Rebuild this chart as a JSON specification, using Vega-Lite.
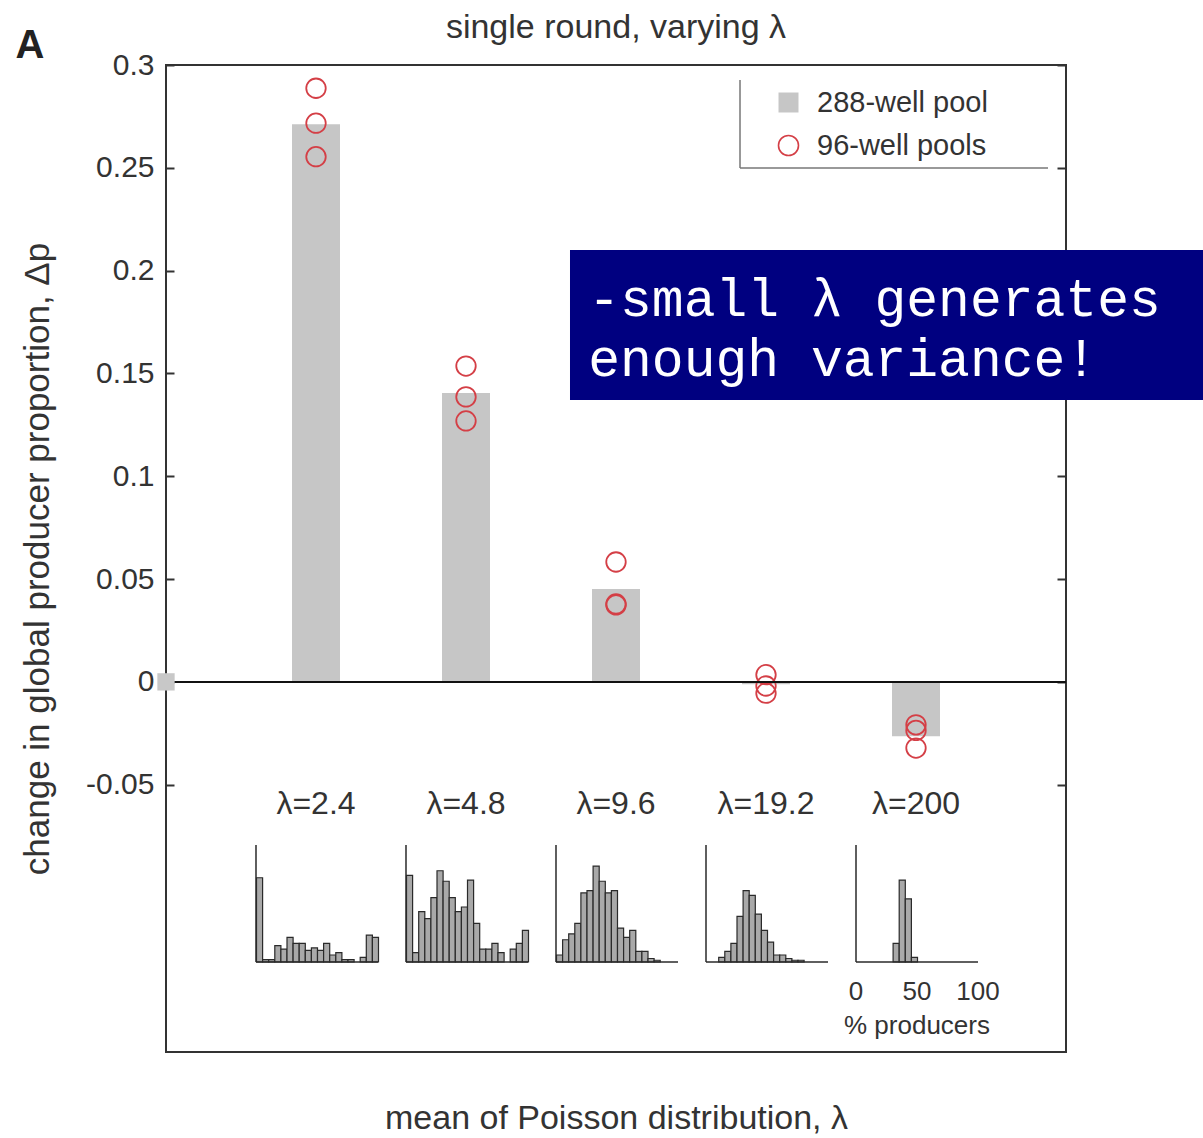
{
  "$schema": "https://vega.github.io/schema/vega-lite/v6.json",
  "width": 900,
  "height": 987,
  "autosize": {"type": "none"},
  "padding": {"left": 166, "top": 65, "right": 137, "bottom": 86},
  "background": "white",
  "title": {"text": "single round, varying λ", "fontSize": 34, "fontWeight": "normal", "color": "#333", "offset": -19, "anchor": "middle"},
  "config": {
    "font": "Liberation Sans",
    "view": {"stroke": "#333", "strokeWidth": 2},
    "axis": {"grid": false}
  },
  "datasets": {
    "pool": [
      {"lambda": "2.4", "series": "288-well pool", "dp": 0.2712},
      {"lambda": "4.8", "series": "288-well pool", "dp": 0.1405},
      {"lambda": "9.6", "series": "288-well pool", "dp": 0.0452},
      {"lambda": "19.2", "series": "288-well pool", "dp": -0.0012},
      {"lambda": "200", "series": "288-well pool", "dp": -0.0265}
    ],
    "pools96": [
      {"lambda": "2.4", "series": "96-well pools", "dp": 0.2887},
      {"lambda": "2.4", "series": "96-well pools", "dp": 0.2717},
      {"lambda": "2.4", "series": "96-well pools", "dp": 0.2554},
      {"lambda": "4.8", "series": "96-well pools", "dp": 0.1536},
      {"lambda": "4.8", "series": "96-well pools", "dp": 0.1386},
      {"lambda": "4.8", "series": "96-well pools", "dp": 0.1269},
      {"lambda": "9.6", "series": "96-well pools", "dp": 0.0583},
      {"lambda": "9.6", "series": "96-well pools", "dp": 0.0379},
      {"lambda": "9.6", "series": "96-well pools", "dp": 0.0374},
      {"lambda": "19.2", "series": "96-well pools", "dp": 0.0035},
      {"lambda": "19.2", "series": "96-well pools", "dp": -0.002},
      {"lambda": "19.2", "series": "96-well pools", "dp": -0.0055},
      {"lambda": "200", "series": "96-well pools", "dp": -0.0209},
      {"lambda": "200", "series": "96-well pools", "dp": -0.0236},
      {"lambda": "200", "series": "96-well pools", "dp": -0.0322}
    ],
    "hist": [
      {"lambda": "2.4", "lo": 0, "hi": 5, "h": 0.72},
      {"lambda": "2.4", "lo": 5, "hi": 10, "h": 0.02},
      {"lambda": "2.4", "lo": 10, "hi": 15, "h": 0.02},
      {"lambda": "2.4", "lo": 15, "hi": 20, "h": 0.14},
      {"lambda": "2.4", "lo": 20, "hi": 25, "h": 0.11},
      {"lambda": "2.4", "lo": 25, "hi": 30, "h": 0.21},
      {"lambda": "2.4", "lo": 30, "hi": 35, "h": 0.16},
      {"lambda": "2.4", "lo": 35, "hi": 40, "h": 0.16},
      {"lambda": "2.4", "lo": 40, "hi": 45, "h": 0.10},
      {"lambda": "2.4", "lo": 45, "hi": 50, "h": 0.12},
      {"lambda": "2.4", "lo": 50, "hi": 55, "h": 0.10},
      {"lambda": "2.4", "lo": 55, "hi": 60, "h": 0.16},
      {"lambda": "2.4", "lo": 60, "hi": 65, "h": 0.06},
      {"lambda": "2.4", "lo": 65, "hi": 70, "h": 0.08},
      {"lambda": "2.4", "lo": 70, "hi": 75, "h": 0.02},
      {"lambda": "2.4", "lo": 75, "hi": 80, "h": 0.02},
      {"lambda": "2.4", "lo": 85, "hi": 90, "h": 0.04},
      {"lambda": "2.4", "lo": 90, "hi": 95, "h": 0.23},
      {"lambda": "2.4", "lo": 95, "hi": 100, "h": 0.21},
      {"lambda": "4.8", "lo": 0, "hi": 5, "h": 0.74},
      {"lambda": "4.8", "lo": 5, "hi": 10, "h": 0.08},
      {"lambda": "4.8", "lo": 10, "hi": 15, "h": 0.43},
      {"lambda": "4.8", "lo": 15, "hi": 20, "h": 0.37},
      {"lambda": "4.8", "lo": 20, "hi": 25, "h": 0.55},
      {"lambda": "4.8", "lo": 25, "hi": 30, "h": 0.78},
      {"lambda": "4.8", "lo": 30, "hi": 35, "h": 0.69},
      {"lambda": "4.8", "lo": 35, "hi": 40, "h": 0.55},
      {"lambda": "4.8", "lo": 40, "hi": 45, "h": 0.43},
      {"lambda": "4.8", "lo": 45, "hi": 50, "h": 0.47},
      {"lambda": "4.8", "lo": 50, "hi": 55, "h": 0.70},
      {"lambda": "4.8", "lo": 55, "hi": 60, "h": 0.33},
      {"lambda": "4.8", "lo": 60, "hi": 65, "h": 0.11},
      {"lambda": "4.8", "lo": 65, "hi": 70, "h": 0.11},
      {"lambda": "4.8", "lo": 70, "hi": 75, "h": 0.16},
      {"lambda": "4.8", "lo": 75, "hi": 80, "h": 0.08},
      {"lambda": "4.8", "lo": 85, "hi": 90, "h": 0.11},
      {"lambda": "4.8", "lo": 90, "hi": 95, "h": 0.16},
      {"lambda": "4.8", "lo": 95, "hi": 100, "h": 0.27},
      {"lambda": "9.6", "lo": 0, "hi": 5, "h": 0.06},
      {"lambda": "9.6", "lo": 5, "hi": 10, "h": 0.19},
      {"lambda": "9.6", "lo": 10, "hi": 15, "h": 0.24},
      {"lambda": "9.6", "lo": 15, "hi": 20, "h": 0.33},
      {"lambda": "9.6", "lo": 20, "hi": 25, "h": 0.59},
      {"lambda": "9.6", "lo": 25, "hi": 30, "h": 0.61},
      {"lambda": "9.6", "lo": 30, "hi": 35, "h": 0.82},
      {"lambda": "9.6", "lo": 35, "hi": 40, "h": 0.69},
      {"lambda": "9.6", "lo": 40, "hi": 45, "h": 0.59},
      {"lambda": "9.6", "lo": 45, "hi": 50, "h": 0.61},
      {"lambda": "9.6", "lo": 50, "hi": 55, "h": 0.29},
      {"lambda": "9.6", "lo": 55, "hi": 60, "h": 0.21},
      {"lambda": "9.6", "lo": 60, "hi": 65, "h": 0.27},
      {"lambda": "9.6", "lo": 65, "hi": 70, "h": 0.09},
      {"lambda": "9.6", "lo": 70, "hi": 75, "h": 0.09},
      {"lambda": "9.6", "lo": 75, "hi": 80, "h": 0.03},
      {"lambda": "9.6", "lo": 80, "hi": 85, "h": 0.015},
      {"lambda": "19.2", "lo": 10, "hi": 15, "h": 0.04},
      {"lambda": "19.2", "lo": 15, "hi": 20, "h": 0.09},
      {"lambda": "19.2", "lo": 20, "hi": 25, "h": 0.16},
      {"lambda": "19.2", "lo": 25, "hi": 30, "h": 0.39},
      {"lambda": "19.2", "lo": 30, "hi": 35, "h": 0.61},
      {"lambda": "19.2", "lo": 35, "hi": 40, "h": 0.57},
      {"lambda": "19.2", "lo": 40, "hi": 45, "h": 0.41},
      {"lambda": "19.2", "lo": 45, "hi": 50, "h": 0.27},
      {"lambda": "19.2", "lo": 50, "hi": 55, "h": 0.17},
      {"lambda": "19.2", "lo": 55, "hi": 60, "h": 0.06},
      {"lambda": "19.2", "lo": 60, "hi": 65, "h": 0.06},
      {"lambda": "19.2", "lo": 65, "hi": 70, "h": 0.03},
      {"lambda": "19.2", "lo": 70, "hi": 75, "h": 0.015},
      {"lambda": "19.2", "lo": 75, "hi": 80, "h": 0.015},
      {"lambda": "200", "lo": 30, "hi": 35, "h": 0.16},
      {"lambda": "200", "lo": 35, "hi": 40, "h": 0.70},
      {"lambda": "200", "lo": 40, "hi": 45, "h": 0.54},
      {"lambda": "200", "lo": 45, "hi": 50, "h": 0.04}
    ]
  },
  "layer": [
    {
      "layer": [
        {
          "data": {"name": "pool"},
          "mark": {"type": "bar"},
          "encoding": {
            "x": {"field": "lambda", "type": "ordinal", "sort": ["2.4", "4.8", "9.6", "19.2", "200"],
              "scale": {"paddingInner": 0.68, "paddingOuter": 0.84},
              "axis": {"labels": false, "ticks": false, "domain": false, "title": "mean of Poisson distribution, λ", "titleFontSize": 34, "titleFontWeight": "normal", "titleColor": "#333", "titlePadding": 49}},
            "y": {"field": "dp", "type": "quantitative",
              "scale": {"domain": [-0.18, 0.3], "nice": false, "zero": false},
              "axis": {"values": [-0.05, 0, 0.05, 0.1, 0.15, 0.2, 0.25, 0.3], "labelExpr": "'' + datum.value", "tickSize": -8, "tickWidth": 2, "tickColor": "#333", "labelPadding": 20, "labelFontSize": 30, "labelColor": "#333", "domain": false, "title": "change in global producer proportion, Δp", "titleFontSize": 35, "titleFontWeight": "normal", "titleColor": "#333", "titlePadding": 30}},
            "fill": {"field": "series", "type": "nominal",
              "scale": {"domain": ["288-well pool", "96-well pools"], "range": ["#c6c6c6", "rgba(255,255,255,0)"]},
              "legend": {"orient": "none", "legendX": 608, "legendY": 23, "title": null, "labelFontSize": 29, "labelColor": "#333", "labelOffset": 14, "labelLimit": 400, "symbolSize": 400, "rowPadding": 13, "padding": 0, "symbolStrokeWidth": 1.6, "symbolOpacity": 1,
                "encode": {"symbols": {"update": {
                  "shape": {"signal": "datum.value === '288-well pool' ? 'square' : 'circle'"},
                  "opacity": {"value": 1}
                }}}}}
          }
        },
        {
          "data": {"name": "pools96"},
          "mark": {"type": "point", "shape": "circle", "filled": false, "size": 380, "strokeWidth": 1.8, "opacity": 1},
          "encoding": {
            "x": {"field": "lambda", "type": "ordinal", "sort": ["2.4", "4.8", "9.6", "19.2", "200"]},
            "y": {"field": "dp", "type": "quantitative"},
            "stroke": {"field": "series", "type": "nominal",
              "scale": {"domain": ["288-well pool", "96-well pools"], "range": ["rgba(255,255,255,0)", "#d43f46"]},
              "legend": {"orient": "none", "legendX": 608, "legendY": 23, "title": null, "labelFontSize": 29, "labelColor": "#333", "labelOffset": 14, "labelLimit": 400, "symbolSize": 400, "rowPadding": 13, "padding": 0, "symbolStrokeWidth": 1.8, "symbolOpacity": 1,
                "encode": {"symbols": {"update": {
                  "shape": {"signal": "datum.value === '288-well pool' ? 'square' : 'circle'"},
                  "opacity": {"value": 1}
                }}}}}
          }
        },
        {
          "data": {"name": "pool"},
          "transform": [{"calculate": "'λ=' + datum.lambda", "as": "lab"}],
          "mark": {"type": "text", "fontSize": 32, "color": "#333", "baseline": "middle"},
          "encoding": {
            "x": {"field": "lambda", "type": "ordinal", "sort": ["2.4", "4.8", "9.6", "19.2", "200"]},
            "y": {"datum": -0.0595},
            "text": {"field": "lab"}
          }
        }
      ]
    },
    {
      "layer": [
        {"data": {"name": "hist"}, "transform": [{"filter": "datum.lambda === '2.4'"}],
         "mark": {"type": "bar", "fill": "#a9a9a9", "stroke": "#2a2a2a", "strokeWidth": 1.2, "binSpacing": 0},
         "encoding": {
           "x": {"field": "lo", "type": "quantitative", "bin": {"binned": true}, "scale": {"domain": [-73.770, 663.934], "nice": false, "zero": false}, "axis": null},
           "x2": {"field": "hi"},
           "y": {"field": "h", "type": "quantitative", "scale": {"domain": [-0.7692, 7.6667], "nice": false, "zero": false}, "axis": null}}},
        {"data": {"values": [{}]}, "mark": {"type": "rule", "stroke": "#2a2a2a", "strokeWidth": 1.5},
         "encoding": {"x": {"datum": 0, "axis": null}, "y": {"datum": 0, "axis": null}, "y2": {"datum": 1}}},
        {"data": {"values": [{}]}, "mark": {"type": "rule", "stroke": "#2a2a2a", "strokeWidth": 1.5},
         "encoding": {"x": {"datum": 0, "axis": null}, "x2": {"datum": 100}, "y": {"datum": 0, "axis": null}}}
      ]
    },
    {
      "layer": [
        {"data": {"name": "hist"}, "transform": [{"filter": "datum.lambda === '4.8'"}],
         "mark": {"type": "bar", "fill": "#a9a9a9", "stroke": "#2a2a2a", "strokeWidth": 1.2, "binSpacing": 0},
         "encoding": {
           "x": {"field": "lo", "type": "quantitative", "bin": {"binned": true}, "scale": {"domain": [-196.721, 540.984], "nice": false, "zero": false}, "axis": null},
           "x2": {"field": "hi"},
           "y": {"field": "h", "type": "quantitative", "scale": {"domain": [-0.7692, 7.6667], "nice": false, "zero": false}, "axis": null}}},
        {"data": {"values": [{}]}, "mark": {"type": "rule", "stroke": "#2a2a2a", "strokeWidth": 1.5},
         "encoding": {"x": {"datum": 0, "axis": null}, "y": {"datum": 0, "axis": null}, "y2": {"datum": 1}}},
        {"data": {"values": [{}]}, "mark": {"type": "rule", "stroke": "#2a2a2a", "strokeWidth": 1.5},
         "encoding": {"x": {"datum": 0, "axis": null}, "x2": {"datum": 100}, "y": {"datum": 0, "axis": null}}}
      ]
    },
    {
      "layer": [
        {"data": {"name": "hist"}, "transform": [{"filter": "datum.lambda === '9.6'"}],
         "mark": {"type": "bar", "fill": "#a9a9a9", "stroke": "#2a2a2a", "strokeWidth": 1.2, "binSpacing": 0},
         "encoding": {
           "x": {"field": "lo", "type": "quantitative", "bin": {"binned": true}, "scale": {"domain": [-319.672, 418.033], "nice": false, "zero": false}, "axis": null},
           "x2": {"field": "hi"},
           "y": {"field": "h", "type": "quantitative", "scale": {"domain": [-0.7692, 7.6667], "nice": false, "zero": false}, "axis": null}}},
        {"data": {"values": [{}]}, "mark": {"type": "rule", "stroke": "#2a2a2a", "strokeWidth": 1.5},
         "encoding": {"x": {"datum": 0, "axis": null}, "y": {"datum": 0, "axis": null}, "y2": {"datum": 1}}},
        {"data": {"values": [{}]}, "mark": {"type": "rule", "stroke": "#2a2a2a", "strokeWidth": 1.5},
         "encoding": {"x": {"datum": 0, "axis": null}, "x2": {"datum": 100}, "y": {"datum": 0, "axis": null}}}
      ]
    },
    {
      "layer": [
        {"data": {"name": "hist"}, "transform": [{"filter": "datum.lambda === '19.2'"}],
         "mark": {"type": "bar", "fill": "#a9a9a9", "stroke": "#2a2a2a", "strokeWidth": 1.2, "binSpacing": 0},
         "encoding": {
           "x": {"field": "lo", "type": "quantitative", "bin": {"binned": true}, "scale": {"domain": [-442.623, 295.082], "nice": false, "zero": false}, "axis": null},
           "x2": {"field": "hi"},
           "y": {"field": "h", "type": "quantitative", "scale": {"domain": [-0.7692, 7.6667], "nice": false, "zero": false}, "axis": null}}},
        {"data": {"values": [{}]}, "mark": {"type": "rule", "stroke": "#2a2a2a", "strokeWidth": 1.5},
         "encoding": {"x": {"datum": 0, "axis": null}, "y": {"datum": 0, "axis": null}, "y2": {"datum": 1}}},
        {"data": {"values": [{}]}, "mark": {"type": "rule", "stroke": "#2a2a2a", "strokeWidth": 1.5},
         "encoding": {"x": {"datum": 0, "axis": null}, "x2": {"datum": 100}, "y": {"datum": 0, "axis": null}}}
      ]
    },
    {
      "layer": [
        {"data": {"name": "hist"}, "transform": [{"filter": "datum.lambda === '200'"}],
         "mark": {"type": "bar", "fill": "#a9a9a9", "stroke": "#2a2a2a", "strokeWidth": 1.2, "binSpacing": 0},
         "encoding": {
           "x": {"field": "lo", "type": "quantitative", "bin": {"binned": true}, "scale": {"domain": [-565.574, 172.131], "nice": false, "zero": false}, "axis": null},
           "x2": {"field": "hi"},
           "y": {"field": "h", "type": "quantitative", "scale": {"domain": [-0.7692, 7.6667], "nice": false, "zero": false}, "axis": null}}},
        {"data": {"values": [{}]}, "mark": {"type": "rule", "stroke": "#2a2a2a", "strokeWidth": 1.5},
         "encoding": {"x": {"datum": 0, "axis": null}, "y": {"datum": 0, "axis": null}, "y2": {"datum": 1}}},
        {"data": {"values": [{}]}, "mark": {"type": "rule", "stroke": "#2a2a2a", "strokeWidth": 1.5},
         "encoding": {"x": {"datum": 0, "axis": null}, "x2": {"datum": 100}, "y": {"datum": 0, "axis": null}}},
        {"data": {"values": [{"t": "0", "v": 0}, {"t": "50", "v": 50}, {"t": "100", "v": 100}]},
         "mark": {"type": "text", "fontSize": 26, "color": "#333", "baseline": "middle"},
         "encoding": {"x": {"field": "v", "type": "quantitative", "axis": null}, "y": {"datum": -0.256, "axis": null}, "text": {"field": "t"}}},
        {"data": {"values": [{}]},
         "mark": {"type": "text", "fontSize": 26, "color": "#333", "baseline": "middle", "text": "% producers"},
         "encoding": {"x": {"datum": 50, "axis": null}, "y": {"datum": -0.547, "axis": null}}}
      ]
    },
    {
      "data": {"values": [{}]},
      "mark": {"type": "rule", "color": "#111", "strokeWidth": 2},
      "encoding": {
        "y": {"datum": 0, "type": "quantitative",
          "scale": {"domain": [-0.18, 0.3], "nice": false, "zero": false},
          "axis": {"orient": "right", "values": [-0.05, 0, 0.05, 0.1, 0.15, 0.2, 0.25, 0.3], "labels": false, "tickSize": -9, "tickWidth": 2, "tickColor": "#333", "domain": false, "title": null}}
      }
    },
    {
      "data": {"values": [{}]},
      "layer": [
        {"mark": {"type": "square", "color": "#c8c8c8", "size": 300, "opacity": 1},
         "encoding": {
           "x": {"datum": 0, "type": "quantitative", "scale": {"domain": [0, 6], "nice": false, "zero": false}, "axis": null},
           "y": {"datum": 0, "type": "quantitative", "scale": {"domain": [-0.18, 0.3], "nice": false, "zero": false}, "axis": null}}},
        {"mark": {"type": "rule", "color": "#777", "strokeWidth": 1.5},
         "encoding": {"x": {"datum": 3.8267}, "y": {"datum": 0.2927}, "y2": {"datum": 0.2499}}},
        {"mark": {"type": "rule", "color": "#777", "strokeWidth": 1.5},
         "encoding": {"x": {"datum": 3.8267}, "x2": {"datum": 5.88}, "y": {"datum": 0.2499}}},
        {"mark": {"type": "rect", "color": "#000080"},
         "encoding": {"x": {"datum": 2.6933}, "x2": {"datum": 7.0}, "y": {"datum": 0.21}, "y2": {"datum": 0.1371}}},
        {"mark": {"type": "text", "font": "Liberation Mono", "fontSize": 53, "color": "white", "align": "left", "baseline": "middle", "lineHeight": 60, "text": ["-small λ generates", "enough variance!"]},
         "encoding": {"x": {"datum": 2.815}, "y": {"datum": 0.1857}}},
        {"mark": {"type": "text", "fontSize": 40, "fontWeight": "bold", "color": "#222", "align": "center", "baseline": "middle", "text": "A"},
         "encoding": {"x": {"datum": -0.9067}, "y": {"datum": 0.3093}}}
      ]
    }
  ],
  "resolve": {"scale": {"x": "independent", "y": "independent"}}
}
